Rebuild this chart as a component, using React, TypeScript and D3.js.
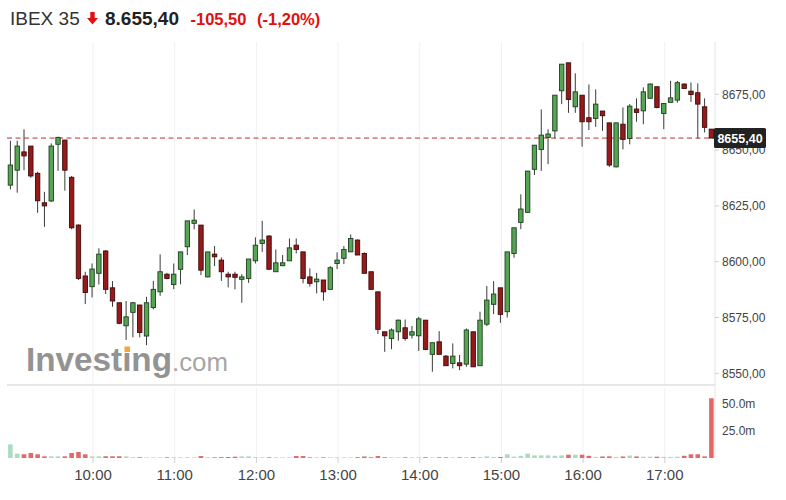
import React from "react";
import * as d3 from "d3";

// ---- Data (5-minute candles, IBEX 35, 09:00 – 17:35) ----
const openVals = [
  8634.3, 8641.0, 8649.2, 8651.8, 8639.6, 8626.4, 8627.2, 8652.6, 8654.5, 8637.8,
  8616.4, 8593.6, 8588.8, 8594.8, 8604.8, 8588.3, 8581.6, 8571.3, 8577.3, 8580.6,
  8566.7, 8579.5, 8586.5, 8594.4, 8589.8, 8596.6, 8606.7, 8617.2, 8616.4, 8593.2,
  8603.4, 8600.7, 8594.4, 8594.4, 8592.1, 8592.5, 8600.4, 8608.2, 8611.5, 8595.5,
  8598.2, 8600.4, 8607.4, 8604.4, 8593.2, 8591.0, 8591.8, 8587.6, 8599.2, 8601.5,
  8604.4, 8609.7, 8603.7, 8595.5, 8586.5, 8568.6, 8565.6, 8568.6, 8570.4, 8567.1,
  8566.8, 8573.8, 8558.5, 8564.1, 8557.7, 8554.4, 8554.7, 8554.1, 8568.6, 8553.4,
  8572.0, 8580.9, 8588.3, 8577.6, 8603.7, 8617.6, 8622.1, 8641.4, 8650.3, 8655.7,
  8658.6, 8676.6, 8689.1, 8669.4, 8674.6, 8664.5, 8664.2, 8667.5, 8662.2, 8642.5,
  8661.6, 8655.2, 8668.4, 8667.6, 8673.2, 8678.4, 8666.4, 8671.4, 8672.4, 8679.6,
  8676.4, 8675.7, 8669.4, 8659.4,
];
const highVals = [
  8654.2, 8654.2, 8659.3, 8651.8, 8640.3, 8631.3, 8653.0, 8656.0, 8654.6, 8638.4,
  8616.8, 8595.5, 8599.2, 8606.0, 8605.2, 8591.3, 8581.6, 8582.4, 8582.0, 8580.6,
  8584.3, 8591.4, 8603.3, 8595.0, 8599.2, 8604.4, 8618.3, 8623.4, 8616.4, 8604.4,
  8607.0, 8601.9, 8595.5, 8595.5, 8594.4, 8601.2, 8610.9, 8618.3, 8611.9, 8605.5,
  8603.0, 8610.4, 8610.4, 8604.4, 8597.0, 8595.0, 8591.8, 8598.0, 8604.2, 8607.0,
  8612.2, 8610.0, 8604.2, 8595.5, 8586.5, 8568.6, 8570.1, 8574.1, 8574.1, 8571.2,
  8575.3, 8573.8, 8563.7, 8568.9, 8558.2, 8563.4, 8558.2, 8570.1, 8568.6, 8577.6,
  8589.1, 8591.3, 8588.3, 8604.4, 8615.2, 8630.2, 8640.6, 8652.2, 8668.2, 8659.3,
  8674.6, 8688.5, 8689.1, 8684.4, 8674.6, 8679.4, 8677.2, 8667.5, 8662.2, 8662.2,
  8669.1, 8670.6, 8673.2, 8678.1, 8679.9, 8678.4, 8670.9, 8681.0, 8681.0, 8679.9,
  8680.3, 8679.9, 8673.2, 8659.4,
];
const lowVals = [
  8632.4, 8630.9, 8641.0, 8637.6, 8621.9, 8615.6, 8626.8, 8640.7, 8631.8, 8614.5,
  8591.8, 8581.0, 8584.0, 8589.8, 8585.5, 8579.8, 8572.0, 8564.9, 8566.1, 8566.1,
  8562.6, 8578.6, 8584.7, 8592.1, 8587.7, 8589.9, 8603.0, 8614.5, 8594.0, 8593.0,
  8598.0, 8591.4, 8588.5, 8587.6, 8581.6, 8590.5, 8599.2, 8604.4, 8596.6, 8595.5,
  8598.0, 8600.4, 8603.7, 8590.3, 8588.8, 8585.8, 8582.5, 8587.6, 8596.7, 8598.9,
  8604.4, 8603.0, 8594.8, 8587.6, 8567.6, 8559.6, 8560.8, 8564.6, 8564.6, 8565.6,
  8560.0, 8560.4, 8550.7, 8558.5, 8553.4, 8552.2, 8551.4, 8552.9, 8552.9, 8553.4,
  8571.2, 8576.5, 8572.6, 8575.0, 8601.8, 8614.6, 8622.1, 8638.8, 8640.7, 8643.7,
  8655.2, 8670.6, 8666.7, 8666.7, 8651.5, 8659.0, 8660.4, 8658.6, 8642.5, 8642.2,
  8650.3, 8652.6, 8662.7, 8661.6, 8673.2, 8668.7, 8659.4, 8671.4, 8671.2, 8677.6,
  8671.6, 8655.2, 8657.9, 8655.4,
];
const closeVals = [
  8643.3, 8651.8, 8647.4, 8638.4, 8627.3, 8625.0, 8651.8, 8655.7, 8641.0, 8615.2,
  8592.5, 8586.2, 8596.7, 8603.4, 8587.6, 8582.4, 8572.4, 8575.3, 8581.6, 8568.3,
  8581.6, 8587.6, 8595.5, 8592.5, 8594.4, 8604.4, 8618.3, 8618.6, 8596.2, 8604.4,
  8602.2, 8595.5, 8593.2, 8593.0, 8593.2, 8601.2, 8607.4, 8609.7, 8596.6, 8599.5,
  8599.5, 8606.2, 8605.5, 8592.5, 8590.3, 8592.2, 8586.5, 8597.3, 8600.7, 8605.5,
  8610.4, 8603.0, 8594.8, 8587.6, 8569.7, 8566.8, 8569.4, 8573.8, 8565.6, 8568.6,
  8574.4, 8560.7, 8563.7, 8558.5, 8553.4, 8557.7, 8553.4, 8569.4, 8552.9, 8573.8,
  8582.8, 8585.5, 8576.4, 8604.4, 8615.2, 8623.6, 8640.6, 8652.2, 8656.7, 8657.2,
  8674.6, 8688.5, 8672.7, 8676.1, 8662.7, 8662.7, 8670.6, 8665.4, 8643.3, 8662.2,
  8654.8, 8669.7, 8666.9, 8676.1, 8679.6, 8669.1, 8670.9, 8673.4, 8680.2, 8677.6,
  8674.9, 8670.6, 8660.2, 8655.4,
];
// volume in millions
const volumeVals = [
  12.5, 4.0, 3.4, 4.6, 3.4, 1.5, 1.5, 1.5, 1.5, 4.6,
  5.5, 3.4, 1.5, 1.5, 1.6, 1.6, 1.6, 1.5, 0.7, 0.7,
  0.6, 0.6, 0.6, 0.6, 0.6, 0.6, 0.7, 0.6, 1.8, 0.7,
  0.6, 0.8, 0.9, 1.2, 1.5, 1.5, 0.7, 0.6, 0.6, 0.6,
  0.6, 0.6, 1.8, 1.8, 0.6, 0.6, 0.6, 0.6, 0.6, 0.6,
  0.6, 0.7, 1.4, 0.7, 1.8, 0.7, 0.6, 0.6, 0.6, 0.6,
  0.6, 0.7, 0.6, 0.6, 0.6, 0.6, 0.6, 0.7, 0.8, 0.8,
  1.5, 0.9, 0.9, 3.4, 1.2, 2.0, 4.0, 2.4, 2.4, 2.4,
  2.0, 2.4, 3.0, 3.0, 3.0, 2.0, 1.0, 1.4, 1.5, 1.0,
  1.4, 2.2, 1.4, 1.2, 1.2, 1.2, 1.0, 1.0, 1.2, 2.0,
  3.4, 3.4, 1.5, 54.7,
];
const hourLabels = ["10:00", "11:00", "12:00", "13:00", "14:00", "15:00", "16:00", "17:00"];
const hourIndex = [12, 24, 36, 48, 60, 72, 84, 96];
const priceTicks = [8550, 8575, 8600, 8625, 8650, 8675];
const volumeTicks = [25, 50];
const lastPrice = 8655.4;

const FONT = "'Liberation Sans', Arial, Helvetica, sans-serif";
const fmtPrice = (v: number) => v.toFixed(2).replace(".", ",");

export default function App() {
  const W = 786, H = 500;
  const plotLeft = 7, plotRight = 715;
  const mainTop = 42, mainBottom = 385;
  const volTop = 388, volBottom = 458;

  const x = d3.scaleLinear().domain([0, 103]).range([10.4, 711.4]);
  const y = d3.scaleLinear().domain([8550, 8675]).range([373.3, 94.3]);
  const yv = d3.scaleLinear().domain([0, 50]).range([volBottom, 403.4]);

  const bodyW = 4.4;
  const candles = openVals.map((o, i) => ({
    i, o, h: highVals[i], l: lowVals[i], c: closeVals[i], v: volumeVals[i],
    up: closeVals[i] >= o,
  }));

  const tickX = (idx: number) => x(idx) + 1;

  return (
    <div style={{ position: "fixed", left: 0, top: 0, width: W, height: H, background: "#fff" }}>
      <svg width={W} height={H} style={{ display: "block", fontFamily: FONT }}>
        <rect x={0} y={0} width={W} height={H} fill="#fff" />

        {/* header */}
        <text x={10} y={24.5} fontSize={19} fill="#333">IBEX 35</text>
        <path d="M90.3,12 H94.7 V18 H98 L92.5,24.5 L87,18 H90.3 Z" fill="#e21010" />
        <text x={105} y={24.5} fontSize={19} fontWeight="bold" fill="#222">8.655,40</text>
        <text x={190.5} y={24.5} fontSize={16.5} fontWeight="bold" fill="#e21010">-105,50</text>
        <text x={257} y={24.5} fontSize={16.5} fontWeight="bold" fill="#e21010">(-1,20%)</text>

        {/* vertical gridlines */}
        {hourIndex.map((idx) => (
          <g key={"vg" + idx}>
            <line x1={tickX(idx)} x2={tickX(idx)} y1={mainTop} y2={mainBottom} stroke="#f1f1f1" />
            <line x1={tickX(idx)} x2={tickX(idx)} y1={volTop} y2={volBottom} stroke="#f1f1f1" />
          </g>
        ))}

        {/* watermark */}
        <text x={26} y={371} fontSize={33} fontWeight="bold" fill="#939393" textLength={146} lengthAdjust="spacingAndGlyphs">Investıng</text>
        <rect x={124.5} y={346.5} width={5.5} height={5.5} fill="#f4a637" />
        <text x={172} y={371} fontSize={25} fill="#a6a6a6" textLength={56} lengthAdjust="spacingAndGlyphs">.com</text>

        {/* axis frame */}
        <line x1={plotLeft} x2={plotRight} y1={mainBottom} y2={mainBottom} stroke="#cfcfcf" />
        <line x1={plotRight} x2={plotRight} y1={mainTop} y2={volBottom} stroke="#e2e2e2" />

        {/* price axis */}
        {priceTicks.map((t) => (
          <g key={"pt" + t}>
            <line x1={plotRight} x2={plotRight + 4} y1={y(t)} y2={y(t)} stroke="#cfcfcf" />
            <text x={722} y={y(t) + 4.3} fontSize={12} fill="#444">{fmtPrice(t)}</text>
          </g>
        ))}

        {/* last price dashed line */}
        <line x1={plotLeft} x2={plotRight} y1={y(lastPrice)} y2={y(lastPrice)} stroke="#bf3030" strokeWidth={1} strokeDasharray="5,3.5" />

        {/* candles */}
        {candles.map((d) => {
          const top = y(Math.max(d.o, d.c));
          const bot = y(Math.min(d.o, d.c));
          const hgt = Math.max(bot - top, 1.5);
          return (
            <g key={"c" + d.i}>
              <line x1={x(d.i)} x2={x(d.i)} y1={y(d.h)} y2={y(d.l)} stroke="#3a3a3a" strokeWidth={1} />
              <rect
                x={x(d.i) - bodyW / 2}
                y={top}
                width={bodyW}
                height={hgt}
                fill={d.up ? "#55a555" : "#951b1b"}
                stroke={d.up ? "#1d3f1d" : "#3f0a0a"}
                strokeWidth={0.9}
              />
            </g>
          );
        })}

        {/* last price label */}
        <rect x={714} y={y(lastPrice) - 10} width={52} height={20} fill="#222" rx={1.5} />
        <text x={740} y={y(lastPrice) + 4.5} fontSize={12.5} fontWeight="bold" fill="#fff" textAnchor="middle">{fmtPrice(lastPrice)}</text>

        {/* volume bars */}
        {candles.map((d) => (
          <rect
            key={"v" + d.i}
            x={x(d.i) - 2.3}
            y={yv(d.v)}
            width={4.6}
            height={volBottom - yv(d.v)}
            fill={d.up ? "#a9dcc0" : "#e06a6a"}
          />
        ))}
        {volumeTicks.map((t) => (
          <text key={"vt" + t} x={722} y={yv(t) + 4.3} fontSize={12} fill="#444">{t.toFixed(1) + "m"}</text>
        ))}

        {/* time axis */}
        {hourIndex.map((idx, k) => (
          <g key={"ht" + idx}>
            <line x1={tickX(idx)} x2={tickX(idx)} y1={volBottom} y2={volBottom + 5} stroke="#cfcfcf" />
            <text x={tickX(idx)} y={480} fontSize={15} fill="#444" textAnchor="middle">{hourLabels[k]}</text>
          </g>
        ))}
      </svg>
    </div>
  );
}
